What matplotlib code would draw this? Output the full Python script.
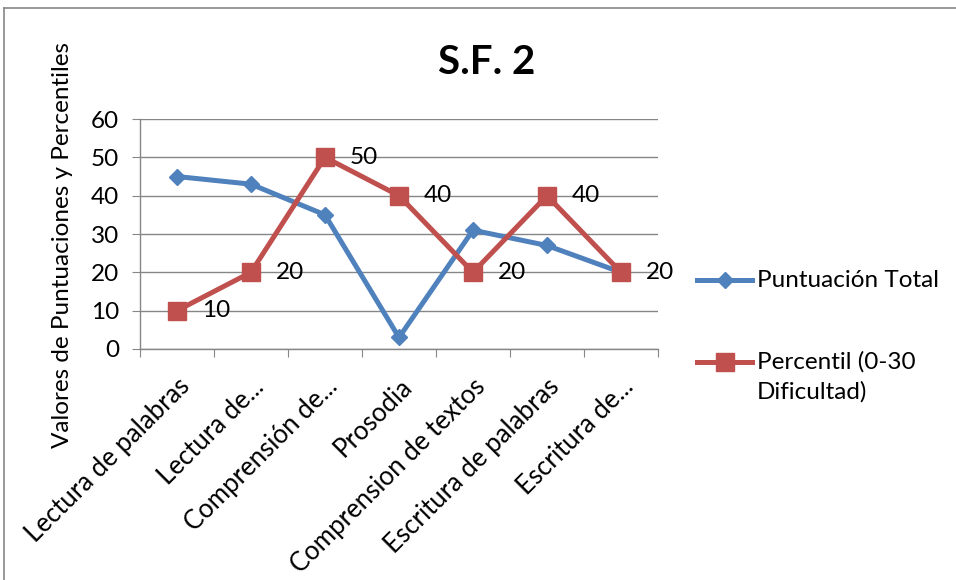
import matplotlib.pyplot as plt
from matplotlib.lines import Line2D

# categories and series values
categorias = ["Lectura de palabras", "Lectura de...", "Comprensión de...", "Prosodia",
              "Comprension de textos", "Escritura de palabras", "Escritura de..."]
puntuacion_total = [45, 43, 35, 3, 31, 27, 20]
percentil = [10, 20, 50, 40, 20, 40, 20]
y_ticks = [0, 10, 20, 30, 40, 50, 60]

azul = "#4F81BD"
rojo = "#C0504D"
gris = "#868686"

plt.rcParams['font.family'] = ['Lato', 'DejaVu Sans']
fs = 17.5

fig = plt.figure(figsize=(9.56, 5.8), dpi=100)
ax = fig.add_axes([0.1464, 0.3983, 0.5419, 0.3965])

x = [i + 0.5 for i in range(len(categorias))]
ax.plot(x, puntuacion_total, color=azul, lw=3.6, marker='D', ms=8.5, zorder=3)
ax.plot(x, percentil, color=rojo, lw=3.6, marker='s', ms=13.5, zorder=4)

# data labels for the percentile series
for xi, v in zip(x, percentil):
    ax.annotate(str(v), (xi, v), xytext=(18, 0), textcoords='offset points',
                ha='left', va='center', fontsize=fs, color='black', zorder=5)

ax.set_xlim(0, len(categorias))
ax.set_ylim(0, 60)
ax.set_yticks(y_ticks)
ax.set_xticks(range(len(categorias) + 1))
ax.set_xticklabels([])
ax.set_xticks(x, minor=True)
ax.set_xticklabels(categorias, minor=True, rotation=45, ha='right',
                   rotation_mode='anchor', fontsize=18.5)
ax.tick_params(axis='x', which='minor', length=0, pad=18)
ax.tick_params(axis='x', which='major', length=6, color=gris, direction='out')
ax.tick_params(axis='y', length=6, color=gris, labelsize=fs, pad=9)

ax.grid(axis='y', color=gris, lw=1)
ax.set_axisbelow(True)
for s in ['top', 'right']:
    ax.spines[s].set_visible(False)
for s in ['left', 'bottom']:
    ax.spines[s].set_color(gris)
    ax.spines[s].set_linewidth(1)

ax.set_ylabel("Valores de Puntuaciones y Percentiles", fontsize=fs)
ax.yaxis.set_label_coords(-0.129, 0.452)

fig.text(0.509, 0.893, "S.F. 2", ha='center', va='center', fontsize=29,
         fontweight='bold')

# legend drawn by hand: Excel aligns the marker with the first text line
leg_y = [0.5172, 0.3759]
for y, c, m, ms in [(leg_y[0], azul, 'D', 8.5), (leg_y[1], rojo, 's', 13.5)]:
    fig.add_artist(Line2D([0.729, 0.787], [y, y], color=c, lw=3.6,
                          transform=fig.transFigure))
    fig.add_artist(Line2D([0.758], [y], color=c, marker=m, ms=ms, lw=0,
                          transform=fig.transFigure))
fig.text(0.792, leg_y[0], "Puntuación Total", fontsize=fs, va='center')
fig.text(0.792, leg_y[1], "Percentil (0-30", fontsize=fs, va='center')
fig.text(0.792, leg_y[1] - 0.0517, "Dificultad)", fontsize=fs, va='center')

# outer chart border (left and top edges visible)
fig.add_artist(Line2D([0.004, 0.004], [0, 0.986], color=gris, lw=1.2,
                      transform=fig.transFigure))
fig.add_artist(Line2D([0.004, 1.0], [0.986, 0.986], color=gris, lw=1.2,
                      transform=fig.transFigure))

fig.savefig("out.png", dpi=100)
